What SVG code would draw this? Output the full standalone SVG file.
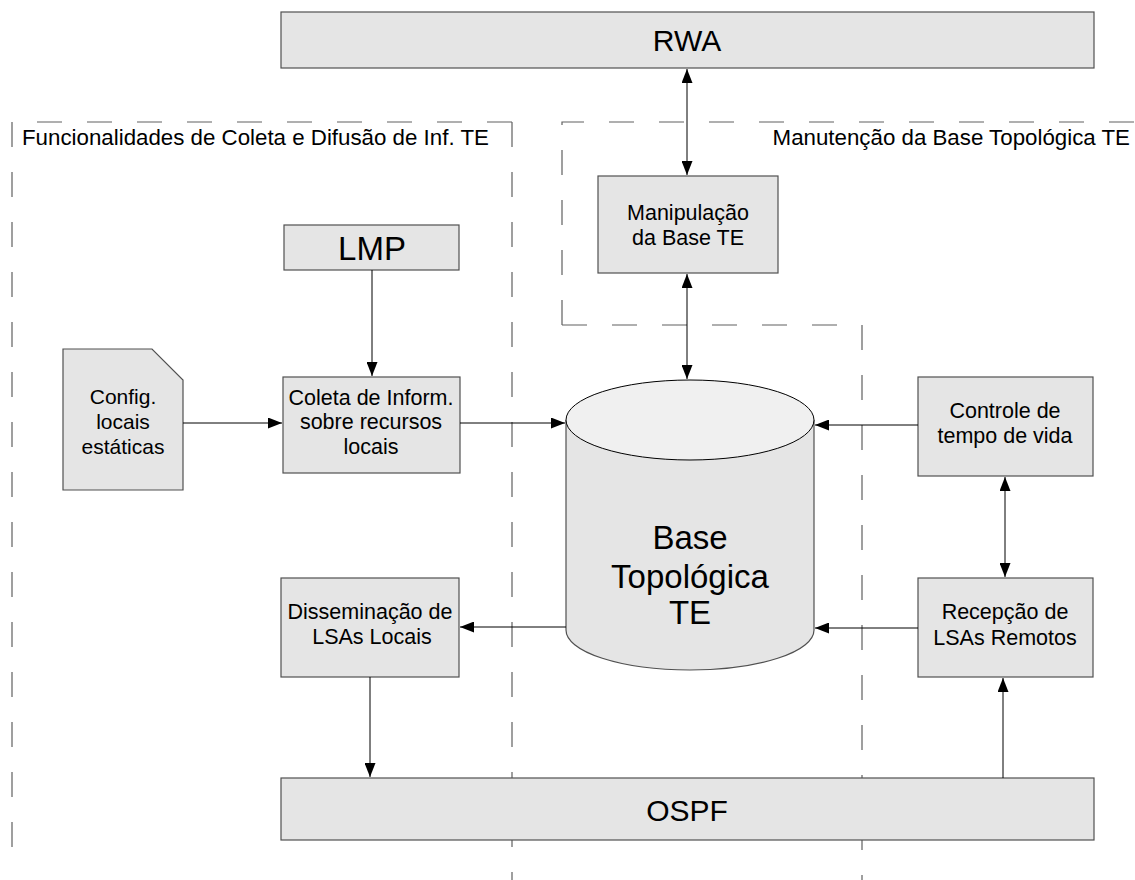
<svg xmlns="http://www.w3.org/2000/svg" width="1135" height="880" viewBox="0 0 1135 880">
  <style>
    .box { fill: #e5e5e5; stroke: #505050; stroke-width: 1.2; }
    .region { fill: none; stroke: #606060; stroke-width: 1.2; stroke-dasharray: 25 25; }
    .conn { fill: none; stroke: #000; stroke-width: 1; }
    .t { font-family: "Liberation Sans", Arial, sans-serif; fill: #000; text-anchor: middle; }
    .lbl { font-size: 21.5px; }
    .big { font-size: 30px; }
    .reg { font-family: "Liberation Sans", Arial, sans-serif; font-size: 22.3px; fill: #000; }
  </style>
  <defs>
    <marker id="arrow" viewBox="0 0 14 11" refX="14" refY="5.5" markerWidth="14" markerHeight="11" markerUnits="userSpaceOnUse" orient="auto-start-reverse">
      <path d="M0,0 L14,5.5 L0,11 Z" fill="#000"/>
    </marker>
  </defs>

  <rect width="1135" height="880" fill="#fff"/>

  <!-- dashed regions -->
  <g id="region-coleta">
    <path class="region" d="M512,122 L12,122 M12,122 L12,860 M512,122 L512,880"/>
    <text class="reg" x="22" y="145">Funcionalidades de Coleta e Difusão de Inf. TE</text>
  </g>
  <g id="region-manutencao">
    <path class="region" d="M562,325 L562,122 L1135,122 M562,325 L862,325 L862,880"/>
    <text class="reg" x="1130" y="145" text-anchor="end">Manutenção da Base Topológica TE</text>
  </g>

  <!-- nodes -->
  <g id="rwa">
    <rect class="box" x="281" y="12" width="813" height="56"/>
    <text class="t big" x="687" y="51">RWA</text>
  </g>
  <g id="manipulacao">
    <rect class="box" x="598" y="176" width="180" height="97"/>
    <text class="t lbl" x="688" y="220">Manipulação</text>
    <text class="t lbl" x="688" y="245">da Base TE</text>
  </g>
  <g id="lmp">
    <rect class="box" x="284" y="225" width="175" height="45"/>
    <text class="t" font-size="33" x="372" y="260">LMP</text>
  </g>
  <g id="config">
    <path class="box" d="M63,349 L152,349 L183,380 L183,490 L63,490 Z"/>
    <text class="t" font-size="21" x="123" y="404">Config.</text>
    <text class="t" font-size="21" x="123" y="429">locais</text>
    <text class="t" font-size="21" x="123" y="454">estáticas</text>
  </g>
  <g id="coleta">
    <rect class="box" x="283" y="377" width="177" height="96"/>
    <text class="t lbl" x="371" y="405">Coleta de Inform.</text>
    <text class="t lbl" x="371" y="429">sobre recursos</text>
    <text class="t lbl" x="371" y="454">locais</text>
  </g>
  <g id="base">
    <path class="box" d="M566,420 L566,630 A124,40 0 0 0 814,630 L814,420"/>
    <ellipse cx="690" cy="420" rx="124" ry="40" fill="#f0f0f0" stroke="#000" stroke-width="1"/>
    <text class="t" font-size="33" x="690" y="549">Base</text>
    <text class="t" font-size="33" x="690" y="588">Topológica</text>
    <text class="t" font-size="33" x="690" y="624">TE</text>
  </g>
  <g id="controle">
    <rect class="box" x="918" y="377" width="175" height="99"/>
    <text class="t lbl" x="1005" y="418">Controle de</text>
    <text class="t lbl" x="1005" y="443">tempo de vida</text>
  </g>
  <g id="recepcao">
    <rect class="box" x="918" y="578" width="175" height="99"/>
    <text class="t lbl" x="1005" y="619">Recepção de</text>
    <text class="t lbl" x="1005" y="645">LSAs Remotos</text>
  </g>
  <g id="disseminacao">
    <rect class="box" x="281" y="578" width="178" height="99"/>
    <text class="t lbl" x="370" y="619">Disseminação de</text>
    <text class="t lbl" x="372" y="644">LSAs Locais</text>
  </g>
  <g id="ospf">
    <rect class="box" x="281" y="778" width="813" height="62"/>
    <text class="t big" x="687" y="821">OSPF</text>
  </g>

  <!-- connectors -->
  <g id="connectors">
    <line class="conn" x1="687" y1="69" x2="687" y2="175" marker-start="url(#arrow)" marker-end="url(#arrow)"/>
    <line class="conn" x1="687" y1="274" x2="687" y2="379" marker-start="url(#arrow)" marker-end="url(#arrow)"/>
    <line class="conn" x1="372" y1="270" x2="372" y2="376" marker-end="url(#arrow)"/>
    <line class="conn" x1="183" y1="423" x2="282" y2="423" marker-end="url(#arrow)"/>
    <line class="conn" x1="460" y1="423" x2="565" y2="423" marker-end="url(#arrow)"/>
    <line class="conn" x1="918" y1="425" x2="815" y2="425" marker-end="url(#arrow)"/>
    <line class="conn" x1="1005" y1="477" x2="1005" y2="577" marker-start="url(#arrow)" marker-end="url(#arrow)"/>
    <line class="conn" x1="918" y1="628" x2="815" y2="628" marker-end="url(#arrow)"/>
    <line class="conn" x1="566" y1="627" x2="460" y2="627" marker-end="url(#arrow)"/>
    <line class="conn" x1="370" y1="677" x2="370" y2="777" marker-end="url(#arrow)"/>
    <line class="conn" x1="1003" y1="778" x2="1003" y2="678" marker-end="url(#arrow)"/>
  </g>
</svg>
